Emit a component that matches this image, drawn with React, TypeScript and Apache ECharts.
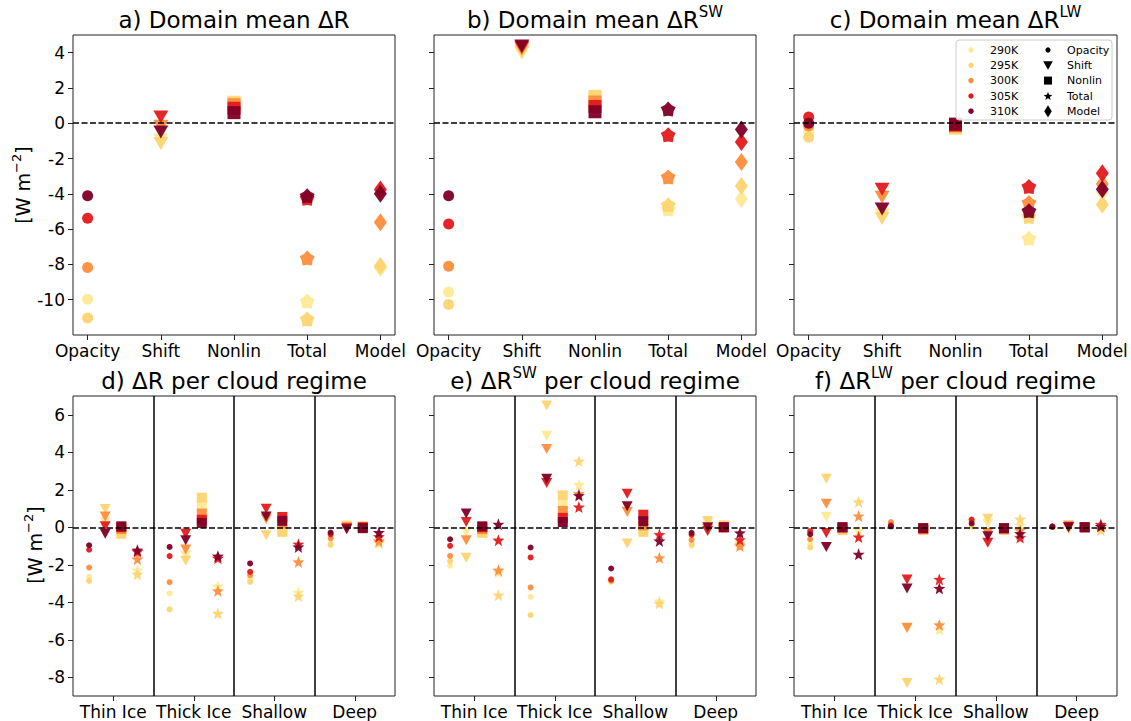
import React, { useEffect, useRef } from "react";
import * as echarts from "echarts";

const FONT = "DejaVu Sans";
const TEMPS = ["290K", "295K", "300K", "305K", "310K"];
const COLORS = ["#ffe993", "#fed470", "#fd8d3c", "#e31a1c", "#800026"];
const COMPONENTS = ["Opacity", "Shift", "Nonlin", "Total", "Model"];
const REGIMES = ["Thin Ice", "Thick Ice", "Shallow", "Deep"];
const Y_TICKS_TOP = [-10, -8, -6, -4, -2, 0, 2, 4];
const Y_TICKS_BOTTOM = [-8, -6, -4, -2, 0, 2, 4, 6];

// Domain means: rows = temperatures (290..310K), cols = Opacity, Shift, Nonlin, Total, Model
const meanR = [
  [-9.97, -0.95, 1.2, -10.08, -8.2],
  [-11.04, -1.15, 1.15, -11.1, -8.09],
  [-8.17, -0.17, 1.05, -7.64, -5.61],
  [-5.39, 0.36, 0.85, -4.25, -3.75],
  [-4.11, -0.5, 0.6, -4.11, -4.0],
];
const meanSW = [
  [-9.56, 3.95, 1.4, -4.86, -4.3],
  [-10.27, 4.05, 1.52, -4.62, -3.55],
  [-8.11, 4.2, 1.2, -3.04, -2.2],
  [-5.71, 4.3, 0.95, -0.65, -1.07],
  [-4.11, 4.38, 0.65, 0.81, -0.35],
];
const meanLW = [
  [-0.45, -5.2, -0.3, -6.52, -3.9],
  [-0.8, -5.4, -0.25, -5.28, -4.6],
  [-0.15, -4.2, -0.15, -4.49, -3.45],
  [0.35, -3.74, -0.1, -3.59, -2.83],
  [0.0, -4.86, -0.05, -4.96, -3.74],
];

// Per regime: rows = temperatures, cols = Thin Ice, Thick Ice, Shallow, Deep
const rOpacity = [
  [-2.64, -3.53, -2.7, -0.96],
  [-2.86, -4.38, -2.91, -0.9],
  [-2.15, -2.93, -2.55, -0.6],
  [-1.2, -1.54, -2.38, -0.38],
  [-0.96, -1.05, -1.93, -0.28],
];
const rShift = [
  [0.28, -1.5, 0.4, 0.1],
  [0.97, -1.79, -0.43, 0.05],
  [0.58, -1.19, 0.45, 0.0],
  [0.05, -0.34, 0.99, -0.05],
  [-0.34, -0.69, 0.58, -0.1],
];
const rNonlin = [
  [-0.2, 1.17, -0.2, 0.05],
  [-0.35, 1.58, -0.25, 0.05],
  [-0.1, 0.73, 0.2, 0.0],
  [0.0, 0.4, 0.55, 0.0],
  [0.05, 0.23, 0.34, -0.05],
];
const rTotal = [
  [-2.29, -3.14, -3.47, -0.85],
  [-2.5, -4.59, -3.67, -0.8],
  [-1.7, -3.39, -1.85, -0.73],
  [-1.3, -1.65, -0.9, -0.5],
  [-1.22, -1.54, -1.05, -0.28],
];

const swOpacity = [
  [-2.05, -3.71, -2.85, -1.0],
  [-1.8, -4.68, -2.9, -0.9],
  [-1.53, -3.21, -2.85, -0.67],
  [-0.99, -1.61, -2.78, -0.4],
  [-0.64, -1.08, -2.2, -0.3],
];
const swShift = [
  [-0.25, 4.88, 0.9, 0.2],
  [-1.63, 6.49, -0.87, 0.34],
  [-0.69, 4.18, 0.82, -0.1],
  [0.28, 2.36, 1.79, -0.2],
  [0.73, 2.59, 1.12, 0.0],
];
const swNonlin = [
  [-0.2, 1.17, -0.1, 0.05],
  [-0.3, 1.7, -0.25, 0.1],
  [-0.1, 0.87, 0.1, 0.0],
  [0.0, 0.5, 0.67, 0.0],
  [0.05, 0.28, 0.32, 0.0],
];
const swTotal = [
  [-2.4, 2.27, -3.94, -0.8],
  [-3.62, 3.53, -4.06, -0.9],
  [-2.29, 1.79, -1.63, -1.0],
  [-0.69, 1.08, -0.39, -0.67],
  [0.16, 1.69, -0.73, -0.3],
];

const lwOpacity = [
  [-0.9, 0.15, 0.0, 0.0],
  [-1.08, 0.2, 0.1, 0.0],
  [-0.64, 0.28, 0.3, 0.0],
  [-0.21, 0.1, 0.41, 0.02],
  [-0.37, 0.05, 0.2, 0.05],
];
const lwShift = [
  [0.55, -5.4, 0.2, 0.0],
  [2.59, -8.3, 0.46, -0.1],
  [1.26, -5.36, -0.3, 0.1],
  [-0.3, -2.78, -0.83, 0.0],
  [-1.05, -3.26, -0.48, 0.0],
];
const lwNonlin = [
  [-0.1, -0.1, -0.1, 0.0],
  [-0.15, -0.15, -0.15, 0.0],
  [-0.05, -0.1, -0.1, 0.0],
  [0.0, -0.05, -0.05, 0.0],
  [0.0, -0.05, -0.05, 0.0],
];
const lwTotal = [
  [-0.16, -5.44, 0.1, -0.1],
  [1.35, -8.1, 0.43, -0.15],
  [0.6, -5.21, -0.16, 0.05],
  [-0.52, -2.78, -0.55, 0.15],
  [-1.44, -3.26, -0.34, 0.05],
];

const TOP_TITLES = [
  "{m|a) Domain mean ΔR}",
  "{m|b) Domain mean ΔR}{sup|SW}",
  "{m|c) Domain mean ΔR}{sup|LW}",
];
const BOTTOM_TITLES = [
  "{m|d) ΔR per cloud regime}",
  "{m|e) ΔR}{sup|SW}{m| per cloud regime}",
  "{m|f) ΔR}{sup|LW}{m| per cloud regime}",
];

// layout
const LEFTS = [73, 434, 794];
const WIDTHS = [322, 322, 323];
const TOPS = [35, 396];
const H = 300;
const OFFSETS = [-0.3, -0.1, 0.1, 0.3];

function starPath(inner: number): string {
  let d = "";
  for (let k = 0; k < 10; k++) {
    const r = k % 2 ? inner : 1;
    const a = -Math.PI / 2 + (k * Math.PI) / 5;
    d += (k ? "L" : "M") + (r * Math.cos(a)).toFixed(3) + " " + (r * Math.sin(a)).toFixed(3) + " ";
  }
  return d + "Z";
}

const TOP_MARKERS: any[] = [
  { symbol: "circle", symbolSize: 11 },
  { symbol: "triangle", symbolSize: [15, 13], symbolRotate: 180 },
  { symbol: "rect", symbolSize: 13 },
  { symbol: "path://" + starPath(0.72), symbolSize: 15 },
  { symbol: "diamond", symbolSize: [13, 18] },
];
const BOTTOM_MARKERS: any[] = [
  { symbol: "circle", symbolSize: 6 },
  { symbol: "triangle", symbolSize: [11, 10], symbolRotate: 180 },
  { symbol: "rect", symbolSize: 10 },
  { symbol: "path://" + starPath(0.42), symbolSize: 12 },
];

const tickStyle = { color: "#222", width: 1 };
const labelStyle = { fontSize: 17, color: "#000", fontFamily: FONT };

export default function App() {
  const ref = useRef<HTMLDivElement>(null);
  useEffect(() => {
    if (!ref.current) return;
    const chart = echarts.init(ref.current, null, { renderer: "svg" });

    const grid: any[] = [];
    const xAxis: any[] = [];
    const yAxis: any[] = [];
    const series: any[] = [];
    const graphic: any[] = [];

    const topData = [meanR, meanSW, meanLW];
    const bottomData = [
      [rOpacity, rShift, rNonlin, rTotal],
      [swOpacity, swShift, swNonlin, swTotal],
      [lwOpacity, lwShift, lwNonlin, lwTotal],
    ];

    for (let row = 0; row < 2; row++) {
      for (let p = 0; p < 3; p++) {
        const idx = row * 3 + p;
        grid.push({
          left: LEFTS[p],
          top: TOPS[row],
          width: WIDTHS[p],
          height: H,
          show: true,
          borderColor: "#222",
          borderWidth: 1,
          backgroundColor: "#fff",
          containLabel: false,
        });
        const xVals = row === 0 ? [0, 1, 2, 3, 4] : [0, 1, 2, 3];
        xAxis.push({
          type: "value",
          gridIndex: idx,
          position: "bottom",
          min: row === 0 ? -0.2 : -0.5,
          max: row === 0 ? 4.2 : 3.5,
          axisLine: { show: false, onZero: false },
          splitLine: { show: false },
          axisTick: { show: true, customValues: xVals, length: 5, lineStyle: tickStyle },
          axisLabel: {
            ...labelStyle,
            customValues: xVals,
            margin: 7,
            formatter: (v: number) => (row === 0 ? COMPONENTS : REGIMES)[Math.round(v)],
          },
        });
        const yVals = row === 0 ? Y_TICKS_TOP : Y_TICKS_BOTTOM;
        yAxis.push({
          type: "value",
          gridIndex: idx,
          position: "left",
          min: row === 0 ? -12 : -9,
          max: row === 0 ? 5 : 7,
          axisLine: { show: false, onZero: false },
          splitLine: { show: false },
          axisTick: { show: true, customValues: yVals, length: 5, lineStyle: tickStyle },
          axisLabel: {
            ...labelStyle,
            show: p === 0,
            customValues: yVals,
            margin: 8,
          },
        });

        // reference lines
        const lines: any[] = [{ yAxis: 0, lineStyle: { type: [6, 2.5], color: "#000", width: 1.5 } }];
        if (row === 1) {
          [0.5, 1.5, 2.5].forEach((x) =>
            lines.push({ xAxis: x, lineStyle: { type: "solid", color: "#000", width: 1.5 } })
          );
        }
        series.push({
          type: "scatter",
          xAxisIndex: idx,
          yAxisIndex: idx,
          data: [],
          z: 1,
          silent: true,
          markLine: {
            silent: true,
            symbol: "none",
            label: { show: false },
            animation: false,
            data: lines,
          },
        });

        if (row === 0) {
          const d = topData[p];
          for (let t = 0; t < TEMPS.length; t++) {
            for (let c = 0; c < COMPONENTS.length; c++) {
              series.push({
                type: "scatter",
                name: TEMPS[t] + " " + COMPONENTS[c],
                xAxisIndex: idx,
                yAxisIndex: idx,
                ...TOP_MARKERS[c],
                itemStyle: { color: COLORS[t], opacity: 0.95 },
                silent: true,
                z: 3,
                data: [[c, d[t][c]]],
              });
            }
          }
        } else {
          const comps = bottomData[p];
          for (let t = 0; t < TEMPS.length; t++) {
            for (let c = 0; c < 4; c++) {
              series.push({
                type: "scatter",
                name: TEMPS[t] + " " + COMPONENTS[c],
                xAxisIndex: idx,
                yAxisIndex: idx,
                ...BOTTOM_MARKERS[c],
                itemStyle: { color: COLORS[t], opacity: 0.95 },
                silent: true,
                z: 3,
                data: comps[c][t].map((v: number, i: number) => [i + OFFSETS[c], v]),
              });
            }
          }
        }

        // titles
        graphic.push({
          type: "text",
          x: LEFTS[p] + WIDTHS[p] / 2,
          y: row === 0 ? 20 : 381,
          z: 10,
          style: {
            text: (row === 0 ? TOP_TITLES : BOTTOM_TITLES)[p],
            align: "center",
            verticalAlign: "middle",
            fill: "#000",
            rich: {
              m: { fontSize: 23, fontFamily: FONT, lineHeight: 32, fill: "#000" },
              sup: { fontSize: 15, fontFamily: FONT, lineHeight: 15, verticalAlign: "top", fill: "#000" },
            },
          },
        });
      }
    }

    // y-axis names
    [
      { x: 23, y: 185 },
      { x: 35, y: 545 },
    ].forEach((pos) => {
      graphic.push({
        type: "text",
        x: pos.x,
        y: pos.y,
        rotation: Math.PI / 2,
        z: 10,
        style: {
          text: "{m|[W m}{sup|−2}{m|]}",
          align: "center",
          verticalAlign: "middle",
          fill: "#000",
          rich: {
            m: { fontSize: 19, fontFamily: FONT, lineHeight: 26, fill: "#000" },
            sup: { fontSize: 13, fontFamily: FONT, lineHeight: 13, verticalAlign: "top", fill: "#000" },
          },
        },
      });
    });

    // legend (panel c)
    const lx = 956, ly = 40, lw = 156, lh = 80;
    graphic.push({
      type: "rect",
      z: 20,
      shape: { x: lx, y: ly, width: lw, height: lh, r: 3 },
      style: { fill: "rgba(255,255,255,0.85)", stroke: "#cccccc", lineWidth: 1 },
    });
    const rowsY = [50, 65.3, 80.6, 96, 111.2];
    const mx = 1048;
    TEMPS.forEach((tname, i) => {
      graphic.push({
        type: "circle",
        z: 21,
        shape: { cx: 971, cy: rowsY[i], r: 2.7 },
        style: { fill: COLORS[i] },
      });
      graphic.push({
        type: "text",
        z: 21,
        x: 990,
        y: rowsY[i],
        style: { text: tname, fontSize: 11, fontFamily: FONT, fill: "#000", verticalAlign: "middle", align: "left" },
      });
    });
    const starPts: number[][] = [];
    for (let k = 0; k < 10; k++) {
      const r = k % 2 ? 1.9 : 4.6;
      const a = -Math.PI / 2 + (k * Math.PI) / 5;
      starPts.push([mx + r * Math.cos(a), rowsY[3] + 0.4 + r * Math.sin(a)]);
    }
    graphic.push(
      { type: "circle", z: 21, shape: { cx: mx, cy: rowsY[0], r: 2.6 }, style: { fill: "#000" } },
      {
        type: "polygon",
        z: 21,
        shape: { points: [[mx - 4.8, rowsY[1] - 4], [mx + 4.8, rowsY[1] - 4], [mx, rowsY[1] + 4.5]] },
        style: { fill: "#000" },
      },
      { type: "rect", z: 21, shape: { x: mx - 4, y: rowsY[2] - 4, width: 8, height: 8 }, style: { fill: "#000" } },
      { type: "polygon", z: 21, shape: { points: starPts }, style: { fill: "#000" } },
      {
        type: "polygon",
        z: 21,
        shape: { points: [[mx, rowsY[4] - 6], [mx + 3.8, rowsY[4]], [mx, rowsY[4] + 6], [mx - 3.8, rowsY[4]]] },
        style: { fill: "#000" },
      }
    );
    COMPONENTS.forEach((cname, i) => {
      graphic.push({
        type: "text",
        z: 21,
        x: 1067,
        y: rowsY[i],
        style: { text: cname, fontSize: 11, fontFamily: FONT, fill: "#000", verticalAlign: "middle", align: "left" },
      });
    });

    chart.setOption({
      animation: false,
      backgroundColor: "#fff",
      textStyle: { fontFamily: FONT },
      grid,
      xAxis,
      yAxis,
      series,
      graphic,
    });
    return () => chart.dispose();
  }, []);

  return (
    <div
      ref={ref}
      style={{ position: "absolute", left: 0, top: 0, width: 1131, height: 721, background: "#fff" }}
    />
  );
}
